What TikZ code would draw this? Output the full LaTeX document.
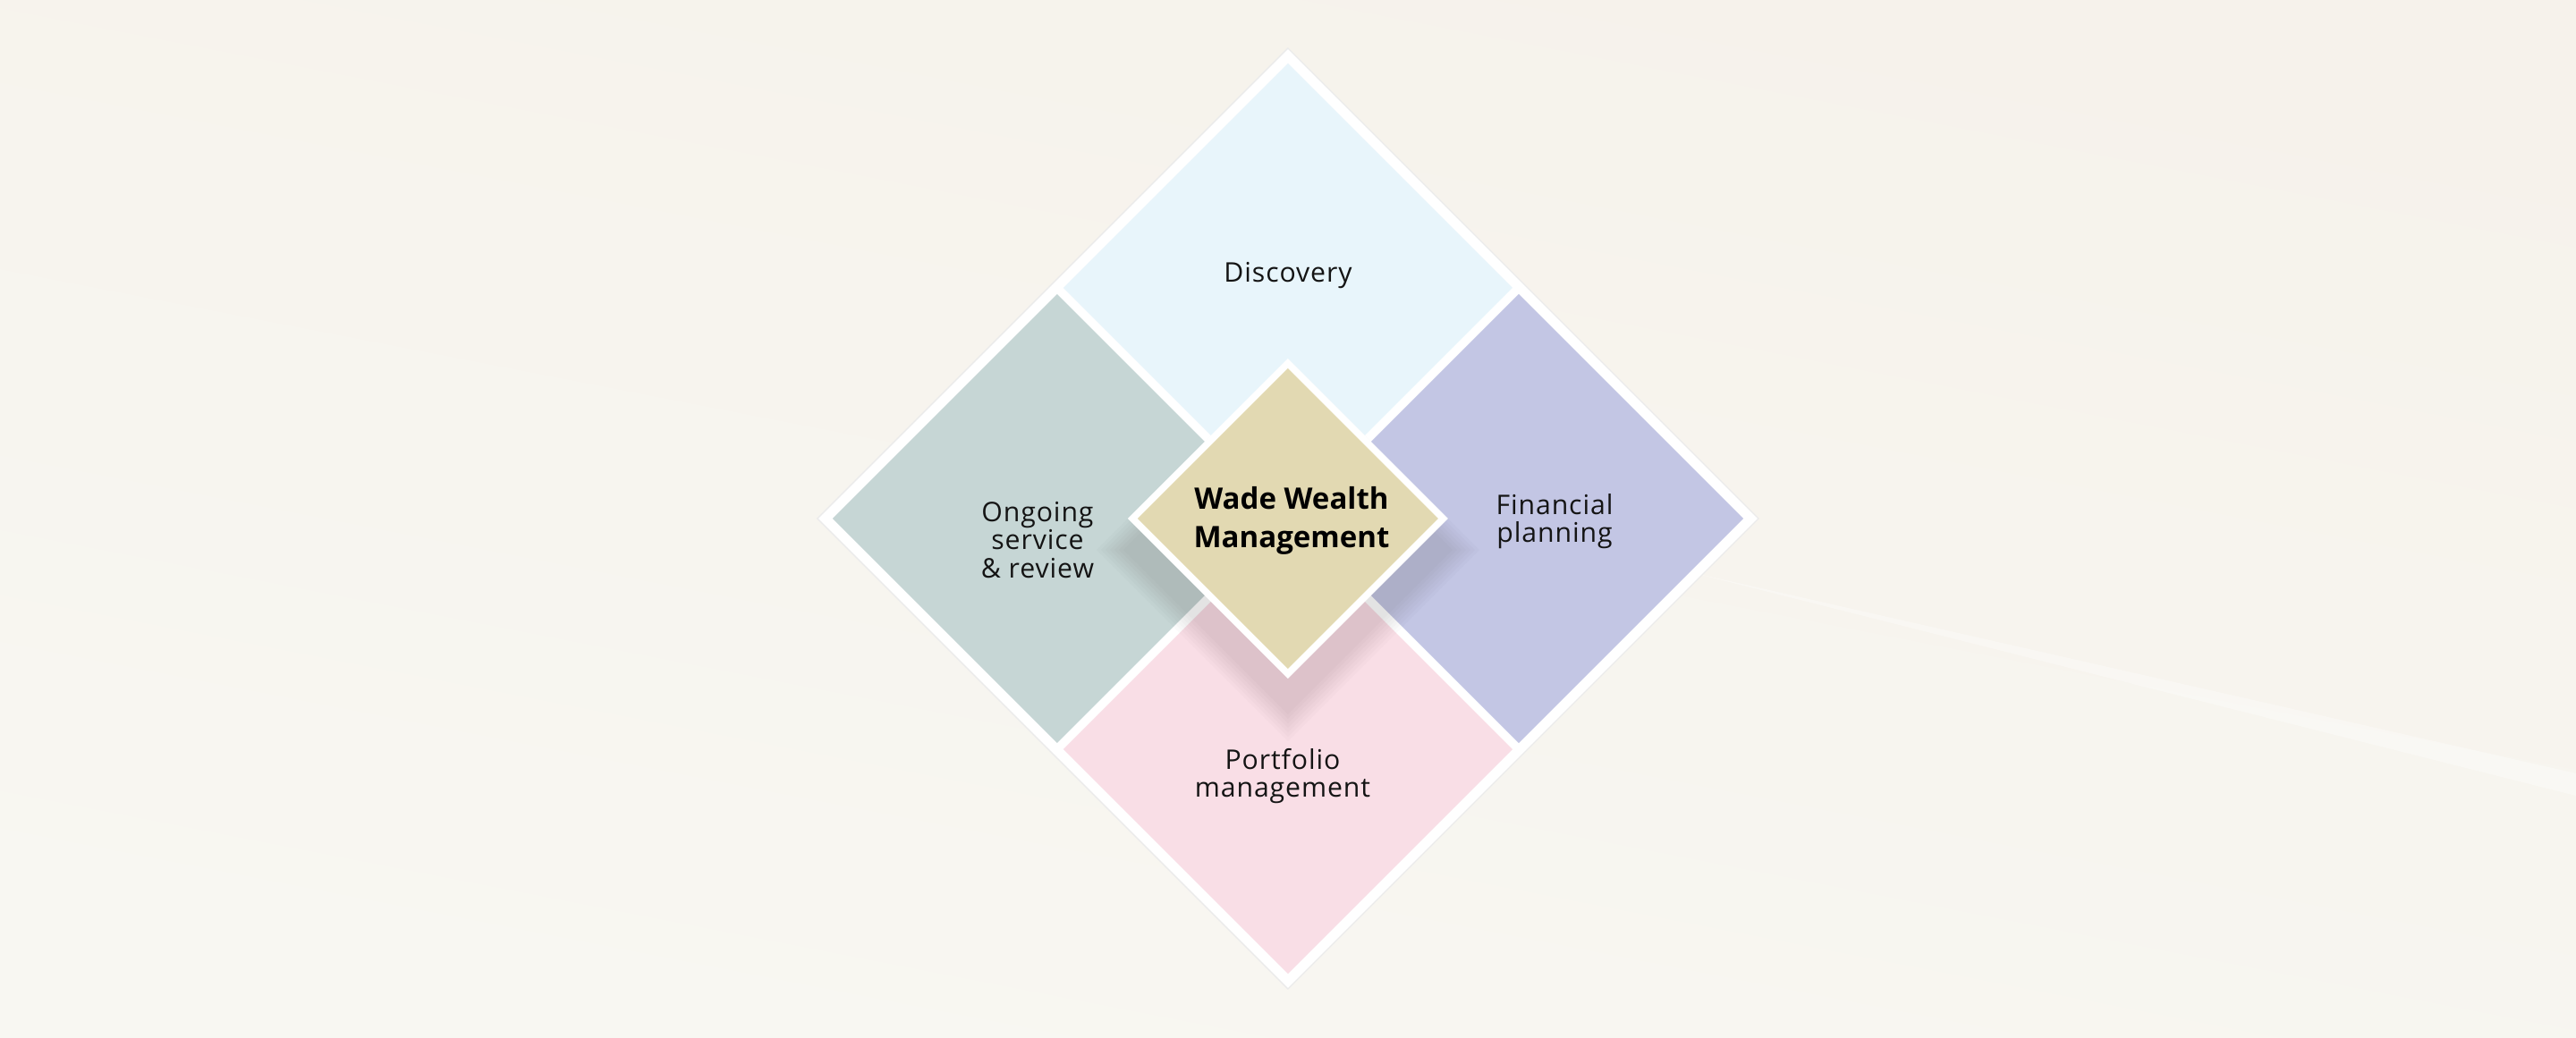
\documentclass[tikz,border=0pt]{standalone}
\usepackage{fontspec}
\setmainfont{Open Sans}
\newfontfamily\lblfont{Open Sans}[LetterSpace=3]
\definecolor{bgtop}{HTML}{F6F2EB}
\definecolor{bgmid}{HTML}{FBFAF6}
\definecolor{bglow}{HTML}{F8F7F2}
\definecolor{discblue}{HTML}{E8F5FB}
\definecolor{ongogreen}{HTML}{C6D6D5}
\definecolor{finlav}{HTML}{C3C6E4}
\definecolor{portpink}{HTML}{F9DEE6}
\definecolor{wwmkhaki}{HTML}{E2D9B2}
\begin{document}
\begin{tikzpicture}[
    lbl/.style={align=center, text=black!92, font=\lblfont\fontsize{8.6}{8.9}\selectfont},
    hub/.style={align=center, text=black, font=\fontsize{9.4}{12.2}\selectfont\bfseries}
  ]
  \useasboundingbox (-14.4, -5.8) rectangle (14.4, 5.8);
  \shade[shading=axis, top color=bgtop, middle color=bgmid, bottom color=bglow, shading angle=-11] (-14.4, -5.8) rectangle (14.4, 5.8);
  \fill[white, opacity=0.35] (4.5, -0.6) -- (14.4, -2.85) -- (14.4, -3.1) -- cycle;

  \filldraw[fill=white, draw=black!8, line width=0.4pt] (0, 5.26) -- (5.26, 0) -- (0, -5.26) -- (-5.26, 0) -- cycle;

  \fill[discblue] (0, 5.09) -- (2.51, 2.58) -- (0, 0.07) -- (-2.51, 2.58) -- cycle;
  \fill[ongogreen] (-5.09, 0) -- (-2.58, 2.51) -- (-0.07, 0) -- (-2.58, -2.51) -- cycle;
  \fill[finlav] (5.09, 0) -- (2.58, 2.51) -- (0.07, 0) -- (2.58, -2.51) -- cycle;
  \fill[portpink] (0, -5.09) -- (2.51, -2.58) -- (0, -0.07) -- (-2.51, -2.58) -- cycle;

  \foreach \r in {0.05, 0.1, ..., 0.4}
    \fill[black, opacity=0.016] (0, {1.44+\r}) -- ({1.79+\r}, -0.35) -- (0, {-2.14-\r}) -- ({-1.79-\r}, -0.35) -- cycle;

  \fill[white] (0, 1.79) -- (1.79, 0) -- (0, -1.79) -- (-1.79, 0) -- cycle;
  \fill[wwmkhaki] (0, 1.68) -- (1.68, 0) -- (0, -1.68) -- (-1.68, 0) -- cycle;

  \node[lbl] (disc) at (0, 2.72) {Discovery};
  \node[lbl] (ongo) at (-2.80, -0.24) {Ongoing\\service\\\& review};
  \node[lbl] (fin) at (2.98, -0.03) {Financial\\planning};
  \node[lbl] (port) at (-0.06, -2.88) {Portfolio\\management};
  \node[hub] (wwm) at (0.04, -0.02) {Wade Wealth\\Management};
\end{tikzpicture}
\end{document}
